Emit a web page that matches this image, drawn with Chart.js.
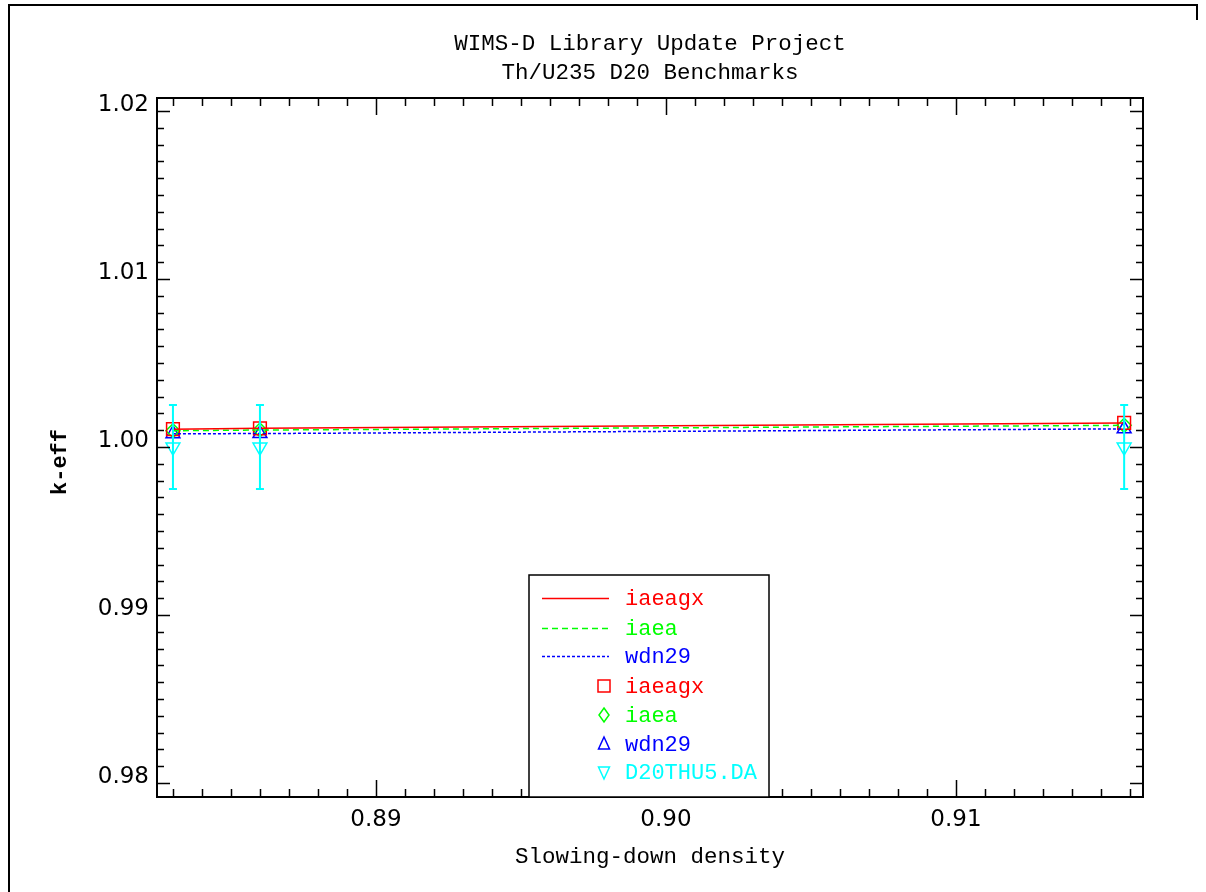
<!DOCTYPE html>
<html>
<head>
<meta charset="utf-8">
<script src="https://cdn.jsdelivr.net/npm/chart.js@4"></script>
<style>
  html, body { margin: 0; padding: 0; background: #fff; }
  canvas { display: block; }
</style>
</head>
<body>
<canvas id="c" width="1206" height="892"></canvas>
<script>
// Benchmark k-eff results versus slowing-down density
const densities = [0.8830, 0.8860, 0.9158];
const keffIaeagx = [1.00106, 1.00111, 1.00143];
const keffIaea = [1.00097, 1.00101, 1.00129];
const keffWdn29 = [1.00079, 1.00080, 1.00108];
const keffMeasured = [1.0000, 1.0000, 1.0000];
const keffMeasuredErr = [0.0025, 0.0025, 0.0025];
const xTickValues = [0.89, 0.90, 0.91];
const yTickValues = [0.98, 0.99, 1.00, 1.01, 1.02];
const titleLines = ['WIMS-D Library Update Project', 'Th/U235 D20 Benchmarks'];
const xAxisTitle = 'Slowing-down density';
const yAxisTitle = 'k-eff';

const RED = '#ff0000', GREEN = '#00ff00', BLUE = '#0000ff', CYAN = '#00ffff';
const MONO = '"Liberation Mono", "DejaVu Sans Mono", monospace';
const SANS = '"DejaVu Sans", sans-serif';

const pts = vals => densities.map((x, i) => ({ x: x, y: vals[i] }));

const lineSet = (label, vals, color, dash) => ({
  label, data: pts(vals), showLine: true, borderColor: color, borderWidth: 1.5,
  borderDash: dash, pointRadius: 0, fill: false, tension: 0
});
const markSet = (label, vals, color, style, radius, rotation) => ({
  label, data: pts(vals), showLine: false, pointStyle: style, pointRadius: radius,
  pointRotation: rotation || 0, pointBorderColor: color, pointBackgroundColor: 'rgba(0,0,0,0)',
  pointBorderWidth: 1.5, borderColor: color
});

// Legend rows: kind 'line' shows a line sample, 'mark' shows a marker
const legendRows = [
  { kind: 'line', text: 'iaeagx', color: RED, dash: [] },
  { kind: 'line', text: 'iaea', color: GREEN, dash: [6, 4] },
  { kind: 'line', text: 'wdn29', color: BLUE, dash: [3, 2] },
  { kind: 'mark', text: 'iaeagx', color: RED, style: 'rect' },
  { kind: 'mark', text: 'iaea', color: GREEN, style: 'rectRot' },
  { kind: 'mark', text: 'wdn29', color: BLUE, style: 'triangle' },
  { kind: 'mark', text: 'D20THU5.DA', color: CYAN, style: 'triangleDown' }
];

function marker(ctx, style, x, y, color) {
  ctx.save();
  ctx.strokeStyle = color;
  ctx.lineWidth = 1.5;
  ctx.beginPath();
  if (style === 'rect') {
    ctx.rect(x - 6, y - 6, 12, 12);
  } else if (style === 'rectRot') {
    ctx.moveTo(x, y - 7); ctx.lineTo(x + 5, y); ctx.lineTo(x, y + 7); ctx.lineTo(x - 5, y); ctx.closePath();
  } else if (style === 'triangle') {
    ctx.moveTo(x, y - 7); ctx.lineTo(x + 5.5, y + 5); ctx.lineTo(x - 5.5, y + 5); ctx.closePath();
  } else {
    ctx.moveTo(x, y + 7); ctx.lineTo(x + 5.5, y - 5); ctx.lineTo(x - 5.5, y - 5); ctx.closePath();
  }
  ctx.stroke();
  ctx.restore();
}

const decorations = {
  id: 'decorations',
  afterDatasetsDraw(chart) {
    const { ctx, scales: { x, y } } = chart;
    // measured values with their uncertainty
    ctx.save();
    ctx.strokeStyle = CYAN;
    ctx.lineWidth = 2;
    densities.forEach((d, i) => {
      const px = x.getPixelForValue(d);
      const top = y.getPixelForValue(keffMeasured[i] + keffMeasuredErr[i]);
      const bot = y.getPixelForValue(keffMeasured[i] - keffMeasuredErr[i]);
      ctx.beginPath();
      ctx.moveTo(px, top); ctx.lineTo(px, bot);
      ctx.moveTo(px - 4, top); ctx.lineTo(px + 4, top);
      ctx.moveTo(px - 4, bot); ctx.lineTo(px + 4, bot);
      ctx.stroke();
    });
    ctx.restore();
  },
  afterDraw(chart) {
    const { ctx, chartArea: a, scales: { x, y } } = chart;
    ctx.save();

    // page frame
    ctx.strokeStyle = '#000';
    ctx.lineWidth = 2;
    ctx.beginPath();
    ctx.moveTo(9, 892); ctx.lineTo(9, 5); ctx.lineTo(1197, 5); ctx.lineTo(1197, 20);
    ctx.stroke();

    // plot frame
    ctx.lineWidth = 2;
    ctx.strokeRect(a.left, a.top, a.right - a.left, a.bottom - a.top);

    // inward ticks on all four sides
    ctx.lineWidth = 1.5;
    ctx.beginPath();
    for (let k = 883; k <= 916; k++) {
      const px = Math.round(x.getPixelForValue(k / 1000)) + 0.5;
      const len = k % 10 === 0 ? 17 : 8;
      ctx.moveTo(px, a.bottom); ctx.lineTo(px, a.bottom - len);
      ctx.moveTo(px, a.top); ctx.lineTo(px, a.top + len);
    }
    for (let k = 980; k <= 1020; k++) {
      const py = Math.round(y.getPixelForValue(k / 1000)) + 0.5;
      const len = k % 10 === 0 ? 13 : 7;
      ctx.moveTo(a.left, py); ctx.lineTo(a.left + len, py);
      ctx.moveTo(a.right, py); ctx.lineTo(a.right - len, py);
    }
    ctx.stroke();

    // titles
    ctx.fillStyle = '#000';
    ctx.textAlign = 'center';
    ctx.textBaseline = 'middle';
    ctx.font = '22.5px ' + MONO;
    const cx = (a.left + a.right) / 2;
    ctx.fillText(titleLines[0], cx, 44);
    ctx.fillText(titleLines[1], cx, 73);
    ctx.fillText(xAxisTitle, cx, 857);
    ctx.save();
    ctx.translate(60, 462);
    ctx.rotate(-Math.PI / 2);
    ctx.font = 'bold 22px ' + MONO;
    ctx.fillText(yAxisTitle, 0, 0);
    ctx.restore();

    // legend box
    const bx = 529, by = 575, bw = 240, bh = a.bottom - 575;
    ctx.fillStyle = '#fff';
    ctx.fillRect(bx, by, bw, bh);
    ctx.strokeStyle = '#000';
    ctx.lineWidth = 1.5;
    ctx.strokeRect(bx, by, bw, bh);
    ctx.font = '22px ' + MONO;
    ctx.textAlign = 'left';
    const rowY = [598, 628, 656, 686, 715, 744, 772];
    legendRows.forEach((r, i) => {
      const ry = rowY[i];
      if (r.kind === 'line') {
        ctx.save();
        ctx.strokeStyle = r.color;
        ctx.lineWidth = 1.5;
        ctx.setLineDash(r.dash);
        ctx.beginPath();
        ctx.moveTo(542, ry + 0.5); ctx.lineTo(609, ry + 0.5);
        ctx.stroke();
        ctx.restore();
      } else {
        marker(ctx, r.style, 604, ry, r.color);
      }
      ctx.fillStyle = r.color;
      ctx.fillText(r.text, 625, ry + 1);
    });
    ctx.restore();
  }
};

new Chart(document.getElementById('c'), {
  type: 'scatter',
  data: {
    datasets: [
      lineSet('iaeagx', keffIaeagx, RED, []),
      lineSet('iaea', keffIaea, GREEN, [6, 4]),
      lineSet('wdn29', keffWdn29, BLUE, [3, 2]),
      markSet('iaeagx', keffIaeagx, RED, 'rect', 9),
      markSet('iaea', keffIaea, GREEN, 'rectRot', 7),
      markSet('wdn29', keffWdn29, BLUE, 'triangle', 8),
      markSet('D20THU5.DA', keffMeasured, CYAN, 'triangle', 8, 180)
    ]
  },
  options: {
    responsive: false,
    animation: false,
    devicePixelRatio: 1,
    layout: { padding: { top: 98, right: 63, left: 0, bottom: 0 } },
    plugins: { legend: { display: false }, title: { display: false }, tooltip: { enabled: false } },
    scales: {
      x: {
        type: 'linear',
        min: 0.88245,
        max: 0.91645,
        afterBuildTicks: s => { s.ticks = xTickValues.map(v => ({ value: v })); },
        afterFit: s => { s.height = 95; },
        grid: { display: false, drawTicks: false },
        border: { display: false },
        ticks: {
          callback: v => Number(v).toFixed(2),
          font: { family: SANS, size: 23 },
          color: '#000',
          padding: 9,
          maxRotation: 0,
          autoSkip: false
        }
      },
      y: {
        type: 'linear',
        min: 0.979167,
        max: 1.020774,
        afterBuildTicks: s => { s.ticks = yTickValues.map(v => ({ value: v })); },
        afterFit: s => { s.width = 157; },
        grid: { display: false, drawTicks: false },
        border: { display: false },
        ticks: {
          callback: v => Number(v).toFixed(2),
          font: { family: SANS, size: 23 },
          color: '#000',
          padding: 8,
          labelOffset: -6,
          autoSkip: false
        }
      }
    }
  },
  plugins: [decorations]
});
</script>
</body>
</html>
